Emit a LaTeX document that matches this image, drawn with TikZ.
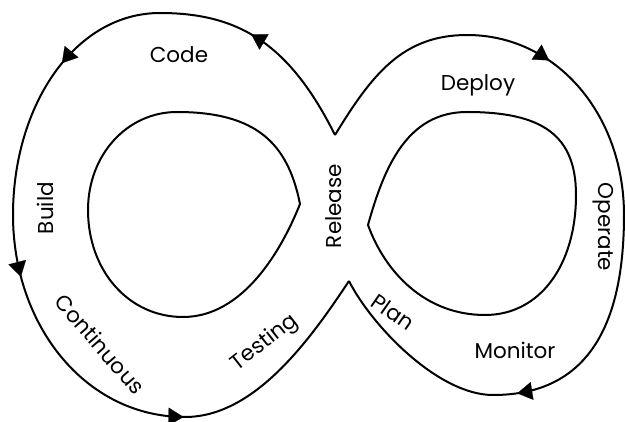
\documentclass[tikz,border=0pt]{standalone}
\usepackage{fontspec}
\setmainfont{Poppins}
\usetikzlibrary{arrows.meta}
\begin{document}
\begin{tikzpicture}[x=1pt,y=-1pt,
  loopline/.style={line width=2pt, line join=miter, miter limit=20},
  headtip/.style={-{Triangle[length=15pt,width=18pt]}, line width=0.2pt},
  lbl/.style={font=\fontsize{21.5}{24}\selectfont, inner sep=0pt}]
\useasboundingbox (0,0) rectangle (625,422);

% crossing points of the figure eight
\coordinate (T) at (335,135);
\coordinate (B) at (349,281);

% outer left lobe
\draw[loopline] (T)
  .. controls (290,45) and (240,13) .. (160,13) coordinate[pos=0.54] (a1s) coordinate[pos=0.555] (a1e)
  .. controls (75,13) and (13,105) .. (13,215) coordinate[pos=0.44] (a2s) coordinate[pos=0.455] (a2e)
  .. controls (13,325) and (85,417) .. (185,417) coordinate[pos=0.18] (a3s) coordinate[pos=0.195] (a3e)
     coordinate[pos=0.98] (a4s) coordinate[pos=0.995] (a4e)
  .. controls (255,417) and (310.5,339) .. (B);

% outer right lobe
\draw[loopline] (T)
  .. controls (371.4,75.5) and (402,35) .. (467,35)
  .. controls (557,35) and (624,115) .. (624,215) coordinate[pos=0.325] (a5s) coordinate[pos=0.34] (a5e)
  .. controls (624,325) and (588,395) .. (493,395) coordinate[pos=0.895] (a6s) coordinate[pos=0.91] (a6e)
  .. controls (438,395) and (371.5,325.5) .. (B);

% inner left loop
\draw[loopline] (300,204)
  .. controls (288,144) and (257,112) .. (177,112)
  .. controls (127,112) and (88,155) .. (88,210)
  .. controls (88,270) and (128,317) .. (183,317)
  .. controls (243,317) and (281.5,250.5) .. cycle;

% inner right loop
\draw[loopline] (368,225)
  .. controls (384,167.4) and (407,112) .. (467,112)
  .. controls (542,112) and (576,135) .. (576,195)
  .. controls (576,265) and (540,315) .. (485,315)
  .. controls (425,315) and (385,272) .. cycle;

% direction arrows
\draw[headtip] (a1s) -- (a1e);
\draw[headtip] (a2s) -- (a2e);
\draw[headtip] (a3s) -- (a3e);
\draw[headtip] (a4s) -- (a4e);
\draw[headtip] (a5s) -- (a5e);
\draw[headtip] (a6s) -- (a6e);

% stage labels
\node[lbl] (code) at (179,55) {Code};
\node[lbl] (deploy) at (478,85) {Deploy};
\node[lbl, rotate=90] (build) at (45,208) {Build};
\node[lbl, rotate=90] (release) at (334,206) {Release};
\node[lbl, rotate=-90] (operate) at (603,227) {Operate};
\node[lbl, rotate=-49] (continuous) at (100,344) {Continuous};
\node[lbl, rotate=38] (testing) at (265,343) {Testing};
\node[lbl, rotate=-35] (plan) at (393,312) {Plan};
\node[lbl] (monitor) at (515,350) {Monitor};
\end{tikzpicture}
\end{document}
